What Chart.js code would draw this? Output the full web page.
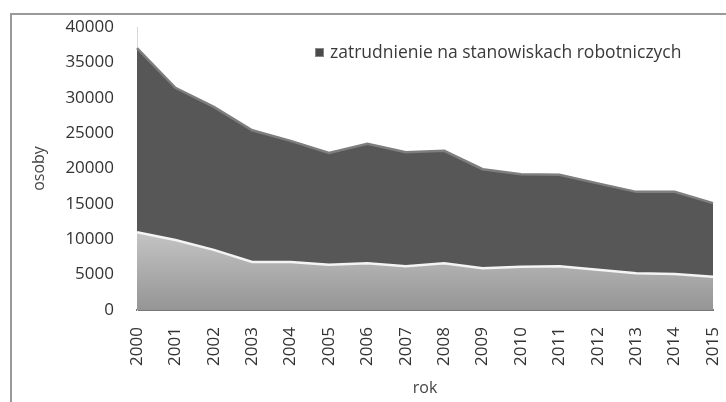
<!DOCTYPE html>
<html>
<head>
<meta charset="utf-8">
<script src="https://cdn.jsdelivr.net/npm/chart.js@4.4.0/dist/chart.umd.min.js"></script>
<style>
  html, body { margin: 0; padding: 0; background: #fff; }
  #wrap { position: relative; width: 726px; height: 402px; overflow: hidden; }
  #frame {
    position: absolute; left: 10px; top: 13px; width: 760px; height: 420px;
    border-left: 2px solid #9a9a9a; border-top: 2px solid #9a9a9a;
  }
  canvas { position: absolute; left: 0; top: 0; }
</style>
</head>
<body>
<div id="wrap">
  <div id="frame"></div>
  <canvas id="chart1" width="726" height="402"></canvas>
</div>
<script>
// years on the x axis
const years = ['2000', '2001', '2002', '2003', '2004', '2005', '2006', '2007',
               '2008', '2009', '2010', '2011', '2012', '2013', '2014', '2015'];

// upper (dark) area - employment in worker positions
const workers = [37000, 31400, 28700, 25400, 23900, 22200, 23500, 22300,
                 22500, 19900, 19200, 19100, 17900, 16700, 16700, 15100];

// lower (light) area
const lower = [11000, 9900, 8500, 6800, 6800, 6400, 6600, 6200,
               6600, 5900, 6100, 6200, 5700, 5200, 5100, 4700];

const legendText = 'zatrudnienie na stanowiskach robotniczych';
const yTicks = [0, 5000, 10000, 15000, 20000, 25000, 30000, 35000, 40000];

const font = "'Open Sans', 'DejaVu Sans', sans-serif";

// legend drawn inside the plot, top right
const insideLegend = {
    id: 'insideLegend',
    afterDraw(chart) {
        const ctx = chart.ctx;
        ctx.save();
        ctx.fillStyle = '#4a4a4a';
        ctx.fillRect(315, 48, 9, 9);
        ctx.strokeStyle = '#888';
        ctx.lineWidth = 1;
        ctx.strokeRect(315.5, 48.5, 8, 8);
        ctx.fillStyle = '#3a3a3a';
        ctx.font = '17.5px ' + font;
        ctx.textBaseline = 'middle';
        ctx.fillText(legendText, 330, 53);
        ctx.restore();
    }
};

function lightFill(context) {
    const chart = context.chart;
    const area = chart.chartArea;
    if (!area) return '#aaa';
    const g = chart.ctx.createLinearGradient(0, chart.scales.y.getPixelForValue(11000), 0, area.bottom);
    g.addColorStop(0, '#c4c4c4');
    g.addColorStop(1, '#959595');
    return g;
}

const ctx1 = document.getElementById('chart1').getContext('2d');
new Chart(ctx1, {
    type: 'line',
    data: {
        labels: years,
        datasets: [{
            label: 'lower',
            data: lower,
            fill: 'origin',
            backgroundColor: lightFill,
            borderColor: '#f4f4f4',
            borderWidth: 2.5,
            pointRadius: 0,
            tension: 0
        }, {
            label: legendText,
            data: workers,
            fill: 'origin',
            backgroundColor: '#575757',
            borderColor: '#7e7e7e',
            borderWidth: 2.5,
            pointRadius: 0,
            tension: 0
        }]
    },
    options: {
        responsive: false,
        animation: false,
        layout: { padding: { left: 30, right: 0, top: 27, bottom: 4 } },
        plugins: {
            legend: { display: false },
            tooltip: { enabled: false }
        },
        scales: {
            x: {
                grid: { display: false },
                border: { color: '#777', width: 2 },
                afterFit: s => { s.height = 88; s.paddingRight = 13; },
                ticks: {
                    color: '#333',
                    font: { family: font, size: 17 },
                    minRotation: 90,
                    maxRotation: 90,
                    padding: 9
                },
                title: {
                    display: true,
                    text: 'rok',
                    color: '#444',
                    font: { family: font, size: 16 },
                    padding: { top: 4, bottom: 0 }
                }
            },
            y: {
                min: 0,
                max: 40000,
                afterBuildTicks: scale => { scale.ticks = yTicks.map(v => ({ value: v })); },
                afterFit: s => { s.width = 107; },
                grid: { display: false },
                border: { color: '#d8d8d8', width: 1 },
                ticks: {
                    color: '#333',
                    font: { family: font, size: 17 },
                    padding: 15,
                    callback: v => String(v)
                },
                title: {
                    display: true,
                    text: 'osoby',
                    color: '#444',
                    font: { family: font, size: 16 },
                    padding: { top: 0, bottom: 0 }
                }
            }
        }
    },
    plugins: [insideLegend]
});
</script>
</body>
</html>
